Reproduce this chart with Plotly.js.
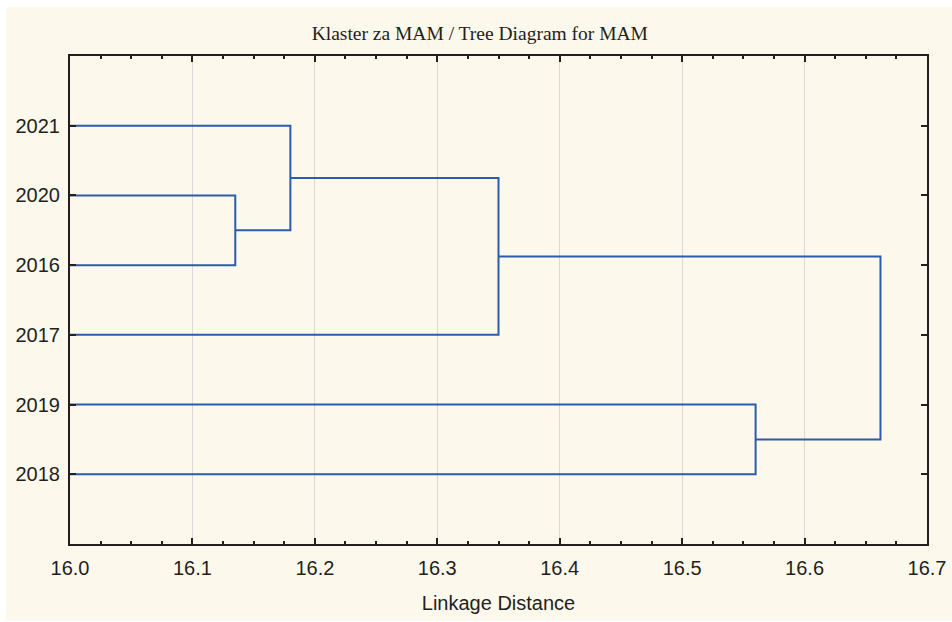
<!DOCTYPE html>
<html>
<head>
<meta charset="utf-8">
<script src="https://cdn.plot.ly/plotly-3.0.1.min.js"></script>
<style>html,body{margin:0;padding:0;background:#fff;}#chart{width:952px;height:622px;}</style>
</head>
<body>
<div id="chart"></div>
<script>
// Leaves, top to bottom
const leafLabels = ['2021', '2020', '2016', '2017', '2019', '2018'];
// Merges: children refer to leaf labels or earlier clusters ("C0", "C1", ...)
const mergeLeft   = ['2020', '2021', 'C1', '2019', 'C2'];
const mergeRight  = ['2016', 'C0',   '2017', '2018', 'C3'];
const mergeHeight = [16.135, 16.18, 16.35, 16.56, 16.662];
// Axis
const xTicks = [16.0, 16.1, 16.2, 16.3, 16.4, 16.5, 16.6, 16.7];
const xMin = 16.0, xMax = 16.7;

const lineColor = '#2a5caa';
const pos = {};
leafLabels.forEach((l, i) => { pos[l] = {x: xMin, y: i}; });
const xs = [], ys = [];
mergeHeight.forEach((h, k) => {
  const a = pos[mergeLeft[k]], b = pos[mergeRight[k]];
  xs.push(a.x, h, h, b.x, null);
  ys.push(a.y, a.y, b.y, b.y, null);
  pos['C' + k] = {x: h, y: (a.y + b.y) / 2};
});

const trace = {
  x: xs, y: ys, type: 'scatter', mode: 'lines',
  line: {color: lineColor, width: 2}, hoverinfo: 'skip', showlegend: false
};

const tickFont = {family: 'Liberation Sans, Arial, sans-serif', size: 20, color: '#231f20'};
const layout = {
  width: 952, height: 622,
  margin: {l: 70, r: 25, t: 56, b: 78},
  paper_bgcolor: '#ffffff',
  plot_bgcolor: '#ffffff',
  showlegend: false,
  title: {
    text: 'Klaster za MAM / Tree Diagram for MAM',
    font: {family: 'Liberation Serif, Times New Roman, serif', size: 19.5, color: '#231f20'},
    x: 0.504, xref: 'container', xanchor: 'center',
    y: 0.947, yref: 'container', yanchor: 'middle'
  },
  shapes: [{
    type: 'rect', xref: 'paper', yref: 'paper', layer: 'below',
    x0: -0.075, x1: 1.05, y0: -0.157, y1: 1.1,
    fillcolor: '#fdf8ec', line: {width: 0}
  }],
  xaxis: {
    range: [xMin, xMax],
    tickvals: xTicks,
    ticktext: xTicks.map(v => v.toFixed(1)),
    ticks: 'inside', ticklen: 6, tickwidth: 2, tickcolor: '#231f20',
    minor: {dtick: 0.025, tick0: 16.0, ticks: 'inside', ticklen: 3, tickwidth: 2, tickcolor: '#231f20', showgrid: false},
    showline: true, linecolor: '#231f20', linewidth: 2, mirror: 'ticks',
    showgrid: true, gridcolor: '#d9d9d9', gridwidth: 1,
    zeroline: false,
    tickfont: tickFont,
    ticklabelstandoff: 5,
    title: {text: 'Linkage Distance', font: tickFont, standoff: 18}
  },
  yaxis: {
    range: [6, -1],
    tickvals: leafLabels.map((l, i) => i),
    ticktext: leafLabels,
    ticks: 'inside', ticklen: 6, tickwidth: 2, tickcolor: '#231f20',
    showline: true, linecolor: '#231f20', linewidth: 2, mirror: 'ticks',
    showgrid: false, zeroline: false,
    tickfont: tickFont,
    ticklabelstandoff: 4
  }
};

Plotly.newPlot('chart', [trace], layout, {displayModeBar: false, staticPlot: true});
</script>
</body>
</html>
